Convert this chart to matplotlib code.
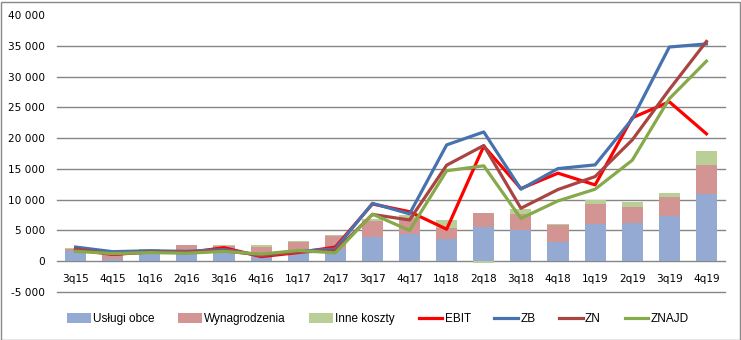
import numpy as np
import matplotlib
matplotlib.use("Agg")
import matplotlib.pyplot as plt
from matplotlib.patches import Rectangle
from matplotlib.ticker import FuncFormatter

quarters = ["3q15", "4q15", "1q16", "2q16", "3q16", "4q16", "1q17", "2q17", "3q17",
            "4q17", "1q18", "2q18", "3q18", "4q18", "1q19", "2q19", "3q19", "4q19"]

uslugi = [1700, 400, 1300, 1200, 1400, 650, 1500, 2000, 3900,
          4500, 3600, 5550, 5150, 3100, 6100, 6200, 7400, 10950]
wynagrodzenia = [250, 1000, 400, 1400, 1100, 1600, 1700, 2150, 2700,
                 2600, 1800, 2250, 2500, 2750, 3200, 2600, 3000, 4650]
inne = [150, 0, 300, 100, 200, 350, 150, 100, 300,
        400, 1300, -250, 800, 200, 650, 800, 650, 2250]

ebit = [1900, 1100, 1500, 1400, 2200, 750, 1400, 2300, 9300,
        8050, 5200, 18700, 11800, 14300, 12400, 23300, 25900, 20700]
zb = [2300, 1550, 1700, 1600, 1900, 950, 1600, 2000, 9400,
      7700, 18900, 21000, 11700, 15050, 15650, 23100, 34800, 35300]
zn = [2000, 1150, 1500, 1500, 1700, 1000, 1500, 1700, 7600,
      6700, 15600, 18800, 8600, 11650, 13750, 19700, 27900, 35700]
znajd = [1600, 1250, 1400, 1300, 1600, 1150, 1750, 1350, 7650,
         5000, 14700, 15500, 6950, 9800, 11700, 16400, 26400, 32500]

x = np.arange(len(quarters))

fig = plt.figure(figsize=(7.41, 3.40), dpi=100)
ax = fig.add_axes([57 / 741, 1 - 292 / 340, (725 - 57) / 741, (292 - 15) / 340])

# stacked bars, negatives stack below zero
pos = np.zeros(len(x))
neg = np.zeros(len(x))
bar_colors = ["#94AAD3", "#D39594", "#BACF98"]
bar_names = ["Usługi obce", "Wynagrodzenia", "Inne koszty"]
handles = []
for vals, col, name in zip([uslugi, wynagrodzenia, inne], bar_colors, bar_names):
    v = np.array(vals, dtype=float)
    bottom = np.where(v >= 0, pos, neg)
    b = ax.bar(x, v, 0.57, bottom=bottom, color=col, label=name, zorder=2)
    handles.append(b)
    pos = pos + np.where(v >= 0, v, 0)
    neg = neg + np.where(v < 0, v, 0)

for vals, col, name in [(ebit, "#FF0000", "EBIT"), (zb, "#4673AF", "ZB"),
                        (zn, "#A94442", "ZN"), (znajd, "#86A94A", "ZNAJD")]:
    l, = ax.plot(x, vals, color=col, lw=2.3, label=name, zorder=3)
    handles.append(l)

ax.set_xlim(-0.5, len(x) - 0.5)
ax.set_ylim(-5000, 40000)
yt = np.arange(-5000, 40001, 5000)
ax.set_yticks(yt)
ax.yaxis.set_major_formatter(FuncFormatter(lambda v, p: f"{int(v):,}".replace(",", " ")))
for t in yt[:-1]:
    ax.axhline(t, color="#868686", lw=1, zorder=1, clip_on=False)

ax.set_xticks(x)
ax.set_xticklabels(quarters)
ax.spines["bottom"].set_position(("data", 0))
for s in ["top", "right", "left", "bottom"]:
    ax.spines[s].set_visible(False)
ax.tick_params(axis="both", length=0, labelsize=7.6, colors="#000000")
ax.tick_params(axis="x", pad=9)
ax.tick_params(axis="y", pad=8.5)
for lbl in ax.get_xticklabels() + ax.get_yticklabels():
    lbl.set_fontfamily("DejaVu Sans")

fig.legend(handles=handles, loc="center", bbox_to_anchor=(0.51, 1 - 319 / 340),
           ncol=7, frameon=False, handlelength=2.0, handleheight=0.9,
           handletextpad=0.2, columnspacing=2.0, prop={"family": "Liberation Sans", "size": 8.5})

fig.add_artist(Rectangle((0.5 / 741, 0.5 / 340), 739 / 741, 338 / 340, transform=fig.transFigure,
                         fill=False, edgecolor="#898989", lw=1))

fig.savefig("out.png", dpi=100)
